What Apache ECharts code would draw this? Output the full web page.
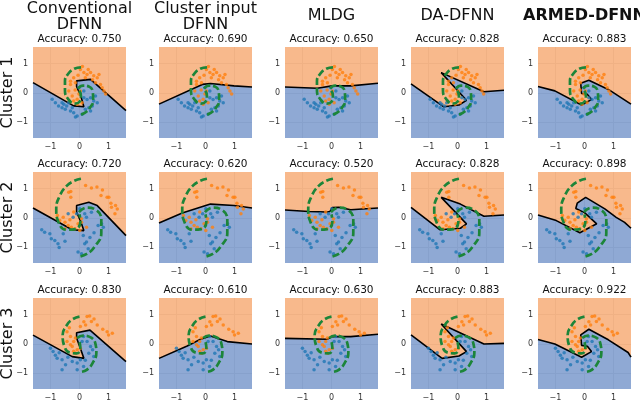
<!DOCTYPE html>
<html>
<head>
<meta charset="utf-8">
<script src="https://cdn.jsdelivr.net/npm/echarts@6.0.0/dist/echarts.min.js"></script>
<style>
  html, body { margin: 0; padding: 0; background: #fff; }
  #chart { width: 640px; height: 402px; }
</style>
</head>
<body>
<div id="chart"></div>
<script>
// titles / labels
const methods = ['Conventional\nDFNN', 'Cluster input\nDFNN', 'MLDG', 'DA-DFNN', 'ARMED-DFNN']
const clusters = ['Cluster 1', 'Cluster 2', 'Cluster 3']
const accuracy = [
  [0.750, 0.690, 0.650, 0.828, 0.883],
  [0.720, 0.620, 0.520, 0.828, 0.898],
  [0.830, 0.610, 0.630, 0.883, 0.922]
]
const tickValues = [-1, 0, 1]

// test points per cluster (class 0 = blue, class 1 = orange)
const orange1 = [[0.03, 0.8], [0.15, 0.69], [0.26, 0.63], [0.38, 0.69], [0.49, 0.58], [0.61, 0.52], [0.67, 0.63], [0.55, 0.35], [0.72, 0.29], [0.78, 0.18], [0.84, 0.07], [0.9, -0.04], [-0.2, 0.52], [-0.14, 0.35], [-0.31, 0.29], [-0.37, 0.07], [-0.25, -0.1], [-0.2, -0.27], [-0.08, -0.21], [-0.02, -0.04], [0.03, 0.07], [0.09, -0.33], [-0.08, -0.38], [-0.31, 0.4], [0.2, 0.52], [0.1, 0.9], [0.3, 0.8], [-0.05, 0.6], [0.45, 0.45], [-0.15, 0.1]]
const blue1 = [[-0.94, -0.21], [-0.83, -0.33], [-0.6, -0.33], [-0.54, -0.38], [-0.44, -0.44], [-0.49, -0.55], [-0.31, -0.61], [-0.2, -0.67], [-0.08, -0.78], [0.09, -0.72], [0.2, -0.55], [0.32, -0.5], [0.44, -0.44], [0.49, -0.27], [0.55, -0.1], [0.38, -0.16], [0.15, -0.16], [0.03, -0.04], [0.15, 0.07], [-0.02, 0.18], [0.26, -0.22], [-0.25, -0.5], [-0.72, -0.44], [-0.6, -0.5], [-0.37, -0.33], [-0.14, -0.82], [0.38, -0.61], [0.61, -0.33]]
const orange2 = [[-0.3, 0.9], [-0.3, 0.7], [0.41, 1.02], [0.79, 0.95], [0.74, 0.76], [1.01, 0.7], [1.08, 0.5], [1.1, 0.36], [1.22, 0.14], [-0.76, 0.08], [-0.56, 0.02], [-0.5, -0.15], [-0.39, -0.26], [-0.28, -0.32], [-0.16, -0.37], [-0.5, -0.37], [-0.05, -0.2], [0.07, -0.15], [-0.33, -0.06], [-0.68, -0.09], [0.07, -0.03], [0.24, -0.32], [0.01, -0.43], [0.21, 1.1], [0.95, 0.7], [1.24, 0.42], [-0.37, 0.87], [0.6, 1.05], [1.3, 0.3], [-0.2, 0.2]]
const blue2 = [[-1.2, -0.49], [-1.02, -0.54], [-0.97, -0.71], [-0.85, -0.77], [-0.74, -0.88], [-0.5, -0.79], [-0.56, -0.54], [0.13, -0.6], [0.18, -0.88], [0.24, -0.82], [0.36, -0.66], [0.07, -1.22], [-0.05, -1.16], [0.64, -0.26], [0.76, -0.2], [0.82, -0.32], [0.18, 0.14], [0.24, 0.02], [0.41, 0.19], [-0.1, 0.14], [-0.22, 0.02], [-0.39, 0.14], [0.01, 0.31], [-1.3, -0.4], [-0.7, -1.0], [0.5, -0.5], [0.3, -1.05]]
const orange3 = [[0.26, 0.93], [0.41, 0.76], [0.61, 0.64], [0.95, 0.41], [1.13, 0.36], [-0.43, 0.41], [-0.31, 0.25], [-0.2, 0.08], [-0.25, -0.09], [-0.08, -0.2], [0.03, -0.15], [-0.43, 0.08], [-0.31, -0.03], [-0.14, 0.2], [0.03, 0.59], [0.21, 0.64], [-0.14, -0.32], [0.35, 0.95], [0.5, 0.85], [0.8, 0.5], [-0.35, 0.55], [-0.2, -0.25], [0.15, 0.75], [1.0, 0.3]]
const blue3 = [[-1.0, -0.15], [-0.83, -0.38], [-0.77, -0.49], [-0.6, -0.54], [-0.48, -0.71], [-0.6, -0.88], [-0.08, -0.65], [0.03, -0.54], [0.14, -0.77], [0.32, -0.32], [0.38, -0.09], [0.26, 0.08], [0.09, 0.08], [0.14, 0.25], [-0.08, -0.88], [-0.91, -0.26], [-0.25, -0.6], [0.49, -0.43], [-0.7, -0.3], [0.2, -0.55], [-0.4, -0.45], [0.45, -0.2]]

// true boundary (two spiral arms) per cluster
const spiralA = [
  [[0.05, 0.87], [-0.18, 0.82], [-0.38, 0.66], [-0.5, 0.4], [-0.5, 0.08], [-0.38, -0.22], [-0.16, -0.36], [0.0, -0.3], [0.05, -0.1], [-0.02, 0.1]],
  [[0.05, 1.33], [-0.2, 1.25], [-0.45, 1.08], [-0.68, 0.75], [-0.8, 0.3], [-0.72, -0.15], [-0.45, -0.4], [-0.15, -0.38], [0.03, -0.12], [0.0, 0.12]],
  [[0.0, 0.93], [-0.25, 0.83], [-0.45, 0.62], [-0.58, 0.3], [-0.52, -0.08], [-0.32, -0.3], [-0.1, -0.32], [0.03, -0.15], [0.0, 0.08]]
]
const spiralB = [
  [[-0.05, 0.15], [0.12, 0.25], [0.32, 0.22], [0.46, 0.02], [0.47, -0.25], [0.36, -0.5], [0.18, -0.68], [0.0, -0.75]],
  [[-0.02, 0.2], [0.25, 0.35], [0.55, 0.28], [0.75, -0.05], [0.75, -0.5], [0.5, -1.0], [0.25, -1.22], [-0.02, -1.32]],
  [[-0.08, 0.2], [0.12, 0.28], [0.35, 0.24], [0.55, 0.0], [0.58, -0.3], [0.45, -0.65], [0.25, -0.88], [0.05, -0.95]]
]

// learned decision boundary, one polyline per model (left edge -> right edge)
const boundary1 = [
  [[-1.6, 0.35], [-0.2, -0.44], [0.15, -0.47], [0.05, -0.12], [-0.1, 0.22], [-0.1, 0.41], [0.38, 0.46], [1.6, -0.6]],
  [[-1.6, -0.38], [-0.11, 0.29], [0.17, 0.32], [0.98, 0.24], [1.6, 0.2]],
  [[-1.6, 0.2], [-0.49, 0.16], [0.02, 0.24], [0.66, 0.24], [1.6, 0.33]],
  [[-1.6, 0.31], [-0.47, -0.47], [0.05, -0.41], [0.31, -0.25], [-0.56, 0.69], [0.91, 0.04], [1.6, 0.09]],
  [[-1.6, 0.22], [-1.02, 0.07], [-0.1, -0.41], [0.25, -0.22], [0.1, -0.05], [-0.1, -0.02], [-0.13, 0.33], [0.15, 0.43], [0.82, 0.12], [1.6, -0.38]]
]
const boundary2 = [
  [[-1.6, 0.34], [-0.25, -0.4], [0.15, -0.43], [0.03, -0.09], [-0.1, 0.2], [-0.1, 0.42], [0.32, 0.53], [0.61, 0.42], [1.6, -0.6]],
  [[-1.6, -0.17], [-0.8, 0.17], [0.17, 0.47], [0.98, 0.42], [1.6, 0.34]],
  [[-1.6, 0.27], [-0.78, 0.22], [-0.15, 0.2], [-0.05, 0.22], [0.02, 0.35], [0.25, 0.36], [0.66, 0.28], [1.6, 0.34]],
  [[-1.6, 0.36], [-0.61, -0.4], [0.1, -0.35], [0.31, -0.2], [-0.56, 0.7], [0.1, 0.47], [0.91, 0.06], [1.6, 0.1]],
  [[-1.6, 0.1], [-0.97, -0.09], [-0.16, -0.5], [0.42, -0.2], [0.0, 0.18], [-0.3, 0.32], [-0.25, 0.5], [0.04, 0.7], [0.7, 0.31], [1.09, 0.02], [1.38, -0.15], [1.6, -0.35]]
]
const boundary3 = [
  [[-1.6, 0.3], [-0.25, -0.43], [0.15, -0.49], [0.03, -0.15], [-0.1, 0.2], [-0.1, 0.38], [0.36, 0.47], [1.6, -0.6]],
  [[-1.6, -0.49], [-0.63, -0.07], [-0.17, 0.16], [0.17, 0.27], [0.75, 0.08], [1.6, 0.0]],
  [[-1.6, 0.19], [-0.15, 0.16], [0.02, 0.25], [0.66, 0.25], [1.6, 0.33]],
  [[-1.6, 0.31], [-0.53, -0.49], [0.05, -0.41], [0.31, -0.26], [-0.56, 0.68], [0.91, 0.0], [1.6, 0.02]],
  [[-1.6, 0.15], [-1.02, 0.0], [-0.1, -0.45], [0.24, -0.26], [0.1, -0.08], [-0.1, -0.05], [-0.13, 0.31], [0.15, 0.5], [0.82, 0.14], [1.5, -0.29], [1.6, -0.45]]
]

const orangePts = [orange1, orange2, orange3]
const bluePts = [blue1, blue2, blue3]
const boundaries = [boundary1, boundary2, boundary3]

// layout
const X_MIN = -1.6, X_MAX = 1.6, Y_MIN = -1.53, Y_MAX = 1.56
const colLeft = [33, 159, 285, 411, 538]
const rowTop = [47, 172, 298]
const plotW = 93
const plotH = 91
const FONT = 'DejaVu Sans'

const fmt = v => (v < 0 ? '\u2212' : '') + Math.abs(v)

function regionRender (line) {
  return function (params, api) {
    const pts = line.map(p => api.coord(p))
    const below = pts.concat([api.coord([X_MAX, Y_MIN]), api.coord([X_MIN, Y_MIN])])
    const above = pts.concat([api.coord([X_MAX, Y_MAX]), api.coord([X_MIN, Y_MAX])])
    return {
      type: 'group',
      children: [
        { type: 'polygon', shape: { points: above }, style: { fill: 'rgba(247,173,120,0.85)' } },
        { type: 'polygon', shape: { points: below }, style: { fill: 'rgba(123,154,204,0.85)' } }
      ]
    }
  }
}

const grid = []
const xAxis = []
const yAxis = []
const series = []
const graphic = []

for (let r = 0; r < 3; r++) {
  for (let c = 0; c < 5; c++) {
    const i = r * 5 + c
    grid.push({ left: colLeft[c], top: rowTop[r], width: plotW, height: plotH })
    xAxis.push({
      type: 'value', gridIndex: i, min: X_MIN, max: X_MAX,
      axisLine: { show: false },
      axisTick: { show: false, customValues: tickValues },
      axisLabel: { customValues: tickValues, formatter: fmt, fontSize: 8, color: '#333', margin: 5, fontFamily: FONT },
      splitLine: { show: true, lineStyle: { color: '#c8c8c8', width: 1 } }
    })
    yAxis.push({
      type: 'value', gridIndex: i, min: Y_MIN, max: Y_MAX,
      axisLine: { show: false },
      axisTick: { show: false, customValues: tickValues },
      axisLabel: { customValues: tickValues, formatter: fmt, fontSize: 8, color: '#333', margin: 5, fontFamily: FONT },
      splitLine: { show: true, lineStyle: { color: '#c8c8c8', width: 1 } }
    })
    const line = boundaries[r][c]
    // filled regions
    series.push({
      type: 'custom', xAxisIndex: i, yAxisIndex: i, z: 1,
      renderItem: regionRender(line), data: [[0, 0]], silent: true
    })
    // decision boundary
    series.push({
      type: 'line', xAxisIndex: i, yAxisIndex: i, z: 3, data: line,
      showSymbol: false, lineStyle: { color: '#000', width: 1.6 }, silent: true
    })
    // points
    series.push({
      type: 'scatter', xAxisIndex: i, yAxisIndex: i, z: 4, data: bluePts[r],
      symbolSize: 3.5, itemStyle: { color: '#1f77b4' }, silent: true
    })
    series.push({
      type: 'scatter', xAxisIndex: i, yAxisIndex: i, z: 4, data: orangePts[r],
      symbolSize: 3.5, itemStyle: { color: '#ff7f0e' }, silent: true
    })
    // true spiral boundary
    ;[spiralA[r], spiralB[r]].forEach(arm => {
      series.push({
        type: 'line', xAxisIndex: i, yAxisIndex: i, z: 5, data: arm, smooth: 0.5,
        showSymbol: false, lineStyle: { color: '#1c8539', width: 2.7, type: [7, 3] }, silent: true
      })
    })
    // accuracy text
    graphic.push({
      type: 'text', x: colLeft[c] + plotW / 2, y: rowTop[r] - 8,
      style: {
        text: 'Accuracy: ' + accuracy[r][c].toFixed(3), fill: '#111',
        font: '10.5px "' + FONT + '"', align: 'center', verticalAlign: 'middle',
        textAlign: 'center', textVerticalAlign: 'middle'
      }
    })
  }
}

// column titles
methods.forEach((m, c) => {
  const bold = c === 4
  graphic.push({
    type: 'text', x: colLeft[c] + plotW / 2, y: m.indexOf('\n') >= 0 ? 17 : 16,
    style: {
      text: m, fill: '#111', lineHeight: 16,
      font: (bold ? 'bold ' : '') + '16px "' + FONT + '"',
      align: 'center', verticalAlign: 'middle', textAlign: 'center', textVerticalAlign: 'middle'
    }
  })
})

// row labels
clusters.forEach((name, r) => {
  graphic.push({
    type: 'text', x: 8, y: rowTop[r] + plotH / 2, rotation: Math.PI / 2,
    style: {
      text: name, fill: '#111', font: '16px "' + FONT + '"',
      align: 'center', verticalAlign: 'middle', textAlign: 'center', textVerticalAlign: 'middle'
    }
  })
})

const chart = echarts.init(document.getElementById('chart'))
chart.setOption({
  animation: false,
  backgroundColor: '#fff',
  grid: grid,
  xAxis: xAxis,
  yAxis: yAxis,
  series: series,
  graphic: graphic
})
</script>
</body>
</html>
